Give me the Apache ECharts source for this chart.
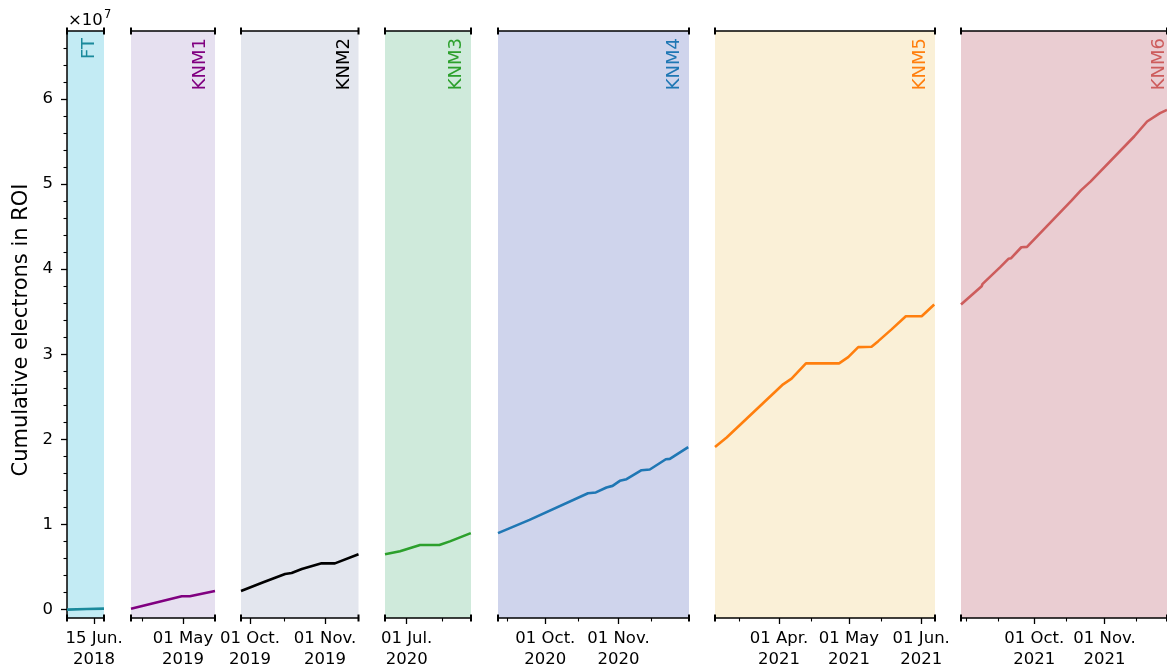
<!DOCTYPE html>
<html>
<head>
<meta charset="utf-8">
<script src="https://cdn.jsdelivr.net/npm/echarts@6/dist/echarts.min.js"></script>
<style>html,body{margin:0;padding:0;background:#fff}#c{width:1167px;height:670px}</style>
</head>
<body>
<div id="c"></div>
<script>
// ---------------- DATA ----------------
const panelNames = ['FT', 'KNM1', 'KNM2', 'KNM3', 'KNM4', 'KNM5', 'KNM6'];
const panelStart = ['2018-06-03 22:00', '2019-04-10 16:00', '2019-09-27 07:00', '2020-06-22 14:00', '2020-09-10 22:00', '2021-03-04 14:00', '2021-08-29 16:00'];
const panelEnd   = ['2018-06-19 02:00', '2019-05-13 12:00', '2019-11-14 20:00', '2020-07-26 00:00', '2020-11-30 22:00', '2021-06-06 22:00', '2021-11-28 14:00'];

const ftDates = ['2018-06-03 22:00', '2018-06-12 00:00', '2018-06-19 02:00'];
const ftValues = [0.0, 0.008e7, 0.012e7];

const knm1Dates = ['2019-04-10 16:00', '2019-04-30 12:00', '2019-05-03 16:00', '2019-05-13 12:00'];
const knm1Values = [0.01e7, 0.157e7, 0.157e7, 0.22e7];

const knm2Dates = ['2019-09-27 07:00', '2019-10-06 12:00', '2019-10-15 12:00', '2019-10-18 05:00', '2019-10-22 10:00', '2019-10-30 14:00', '2019-11-05 02:00', '2019-11-14 20:00'];
const knm2Values = [0.22e7, 0.321e7, 0.419e7, 0.430e7, 0.477e7, 0.544e7, 0.544e7, 0.65e7];

const knm3Dates = ['2020-06-22 14:00', '2020-06-28 10:00', '2020-07-06 05:00', '2020-07-13 17:00', '2020-07-17 19:00', '2020-07-25 22:00'];
const knm3Values = [0.65e7, 0.685e7, 0.759e7, 0.759e7, 0.802e7, 0.899e7];

const knm4Dates = ['2020-09-10 22:00', '2020-09-24 07:00', '2020-10-19 02:00', '2020-10-22 10:00', '2020-10-26 22:00', '2020-10-29 12:00', '2020-11-01 14:00', '2020-11-04 10:00', '2020-11-10 19:00', '2020-11-14 07:00', '2020-11-21 02:00', '2020-11-22 19:00', '2020-11-30 14:00'];
const knm4Values = [0.899e7, 1.055e7, 1.368e7, 1.377e7, 1.435e7, 1.454e7, 1.513e7, 1.533e7, 1.638e7, 1.646e7, 1.767e7, 1.771e7, 1.91e7];

const knm5Dates = ['2021-03-04 14:00', '2021-03-09 14:00', '2021-04-02 19:00', '2021-04-06 10:00', '2021-04-12 14:00', '2021-04-26 19:00', '2021-04-30 17:00', '2021-05-05 00:00', '2021-05-10 17:00', '2021-05-13 14:00', '2021-05-19 07:00', '2021-05-25 10:00', '2021-06-01 05:00', '2021-06-06 14:00'];
const knm5Values = [1.91e7, 2.022e7, 2.647e7, 2.713e7, 2.893e7, 2.893e7, 2.967e7, 3.084e7, 3.089e7, 3.154e7, 3.292e7, 3.447e7, 3.447e7, 3.585e7];

const knm6Dates = ['2021-08-29 16:00', '2021-09-07 19:00', '2021-09-08 05:00', '2021-09-16 02:00', '2021-09-19 14:00', '2021-09-20 19:00', '2021-09-25 07:00', '2021-09-27 19:00', '2021-10-17 10:00', '2021-10-21 14:00', '2021-10-25 22:00', '2021-11-14 02:00', '2021-11-19 19:00', '2021-11-25 12:00', '2021-11-28 14:00'];
const knm6Values = [3.585e7, 3.799e7, 3.827e7, 4.027e7, 4.121e7, 4.128e7, 4.257e7, 4.261e7, 4.804e7, 4.925e7, 5.031e7, 5.558e7, 5.734e7, 5.833e7, 5.87e7];

const majorTicks = [['2018-06-15'], ['2019-05-01'], ['2019-10-01', '2019-11-01'], ['2020-07-01'], ['2020-10-01', '2020-11-01'], ['2021-04-01', '2021-05-01', '2021-06-01'], ['2021-10-01', '2021-11-01']];
const majorLabels = [['15 Jun.\n2018'], ['01 May\n2019'], ['01 Oct.\n2019', '01 Nov.\n2019'], ['01 Jul.\n2020'], ['01 Oct.\n2020', '01 Nov.\n2020'], ['01 Apr.\n2021', '01 May\n2021', '01 Jun.\n2021'], ['01 Oct.\n2021', '01 Nov.\n2021']];
const minorTicks = [[], ['2019-04-15'], ['2019-10-15'], ['2020-07-15'], ['2020-09-15', '2020-10-15', '2020-11-15'], ['2021-03-15', '2021-04-15', '2021-05-15'], ['2021-09-01', '2021-09-15', '2021-10-15', '2021-11-15']];

const yMajorTicks = [0, 1e7, 2e7, 3e7, 4e7, 5e7, 6e7];
const yMajorLabels = ['0', '1', '2', '3', '4', '5', '6'];
const yMinorTicks = [0.2e7, 0.4e7, 0.6e7, 0.8e7, 1.2e7, 1.4e7, 1.6e7, 1.8e7, 2.2e7, 2.4e7, 2.6e7, 2.8e7, 3.2e7, 3.4e7, 3.6e7, 3.8e7, 4.2e7, 4.4e7, 4.6e7, 4.8e7, 5.2e7, 5.4e7, 5.6e7, 5.8e7, 6.2e7, 6.4e7, 6.6e7];
const yMin = -0.098e7, yMax = 6.797e7;
const yTitle = 'Cumulative electrons in ROI';

// ---------------- STYLE / LAYOUT ----------------
const lineColors = ['#1b8a9c', '#800080', '#000000', '#2ca02c', '#1f77b4', '#ff7f0e', '#cd5c5c'];
const bgColors = ['#c3ebf4', '#e6e0f0', '#e3e6ee', '#cfeadb', '#cfd4ec', '#faf0d7', '#eacdd2'];
const gridLeft = [67, 131, 241, 385, 498, 715, 961];
const gridWidth = [37, 84, 117.5, 86, 191, 220, 213];
const gridTop = 31, gridHeight = 588;
const FONT = '"DejaVu Sans", sans-serif';

function t(s) {
  const m = s.match(/(\d+)-(\d+)-(\d+)(?:[ T](\d+):(\d+))?/);
  return Date.UTC(+m[1], +m[2] - 1, +m[3], m[4] ? +m[4] : 0, m[5] ? +m[5] : 0);
}

const seriesDates = [ftDates, knm1Dates, knm2Dates, knm3Dates, knm4Dates, knm5Dates, knm6Dates];
const seriesValues = [ftValues, knm1Values, knm2Values, knm3Values, knm4Values, knm5Values, knm6Values];

const grids = [], xAxes = [], yAxes = [], series = [], graphics = [];
const capLine = {show: true, onZero: false, lineStyle: {color: '#000', width: 1.5}, symbol: ['rect', 'rect'], symbolSize: [7, 2]};

panelNames.forEach((name, i) => {
  grids.push({left: gridLeft[i], top: gridTop, width: gridWidth[i], height: gridHeight,
    show: true, backgroundColor: bgColors[i], borderWidth: 0});
  const min = t(panelStart[i]), max = t(panelEnd[i]);
  const majVals = majorTicks[i].map(t);
  const labelMap = {};
  majVals.forEach((v, k) => { labelMap[v] = majorLabels[i][k]; });
  const xMainIdx = xAxes.length;
  xAxes.push({
    gridIndex: i, type: 'value', min: min, max: max, position: 'bottom', scale: true,
    axisLine: capLine,
    axisTick: {show: true, customValues: majVals, length: 6, lineStyle: {color: '#000', width: 1.3}},
    axisLabel: {show: true, customValues: majVals, formatter: v => labelMap[v] || '',
      fontSize: 16.5, fontFamily: FONT, color: '#000', lineHeight: 21, margin: 10, hideOverlap: false},
    splitLine: {show: false}
  });
  xAxes.push({
    gridIndex: i, type: 'value', min: min, max: max, position: 'bottom', scale: true,
    axisLine: {show: false, onZero: false},
    axisTick: minorTicks[i].length ? {show: true, customValues: minorTicks[i].map(t), length: 3.5, lineStyle: {color: '#000', width: 1.1}} : {show: false},
    axisLabel: {show: false}, splitLine: {show: false}
  });
  xAxes.push({
    gridIndex: i, type: 'value', min: min, max: max, position: 'top', scale: true,
    axisLine: capLine, axisTick: {show: false}, axisLabel: {show: false}, splitLine: {show: false}
  });
  const yIdx = yAxes.length;
  if (i === 0) {
    yAxes.push({
      gridIndex: 0, type: 'value', min: yMin, max: yMax, position: 'left',
      axisLine: {show: true, onZero: false, lineStyle: {color: '#000', width: 1.5}},
      axisTick: {show: true, customValues: yMajorTicks, length: 6, lineStyle: {color: '#000', width: 1.3}},
      axisLabel: {show: true, customValues: yMajorTicks,
        formatter: v => { const k = yMajorTicks.indexOf(v); return k >= 0 ? yMajorLabels[k] : ''; },
        fontSize: 16.5, fontFamily: FONT, color: '#000', margin: 14},
      splitLine: {show: false}
    });
    yAxes.push({
      gridIndex: 0, type: 'value', min: yMin, max: yMax, position: 'left',
      axisLine: {show: false, onZero: false},
      axisTick: {show: true, customValues: yMinorTicks, length: 3.5, lineStyle: {color: '#000', width: 1.1}},
      axisLabel: {show: false}, splitLine: {show: false}
    });
  } else {
    yAxes.push({gridIndex: i, type: 'value', min: yMin, max: yMax, show: false, splitLine: {show: false}});
  }
  series.push({
    type: 'line', name: name, xAxisIndex: xMainIdx, yAxisIndex: yIdx,
    data: seriesDates[i].map((d, k) => [t(d), seriesValues[i][k]]),
    showSymbol: false, symbol: 'none', clip: true,
    lineStyle: {color: lineColors[i], width: 2.6}, itemStyle: {color: lineColors[i]},
    z: 3
  });
  graphics.push({
    type: 'text', x: gridLeft[i] + gridWidth[i] - 5.5, y: gridTop + 7, rotation: Math.PI / 2, z: 10,
    style: {text: name, fill: lineColors[i], font: '18px ' + FONT, align: 'right', verticalAlign: 'bottom'}
  });
});

graphics.push({type: 'text', x: 68, y: 12, z: 10,
  style: {text: '×10', fill: '#000', font: '16.5px ' + FONT, align: 'left', verticalAlign: 'top'}});
graphics.push({type: 'text', x: 104, y: 9, z: 10,
  style: {text: '7', fill: '#000', font: '11.5px ' + FONT, align: 'left', verticalAlign: 'top'}});
graphics.push({type: 'text', x: 22, y: 330, rotation: Math.PI / 2, z: 10,
  style: {text: yTitle, fill: '#000', font: '21px ' + FONT, align: 'center', verticalAlign: 'middle'}});

const chart = echarts.init(document.getElementById('c'), null, {renderer: 'canvas'});
chart.setOption({
  animation: false,
  backgroundColor: '#fff',
  grid: grids, xAxis: xAxes, yAxis: yAxes, series: series, graphic: graphics
});
</script>
</body>
</html>
